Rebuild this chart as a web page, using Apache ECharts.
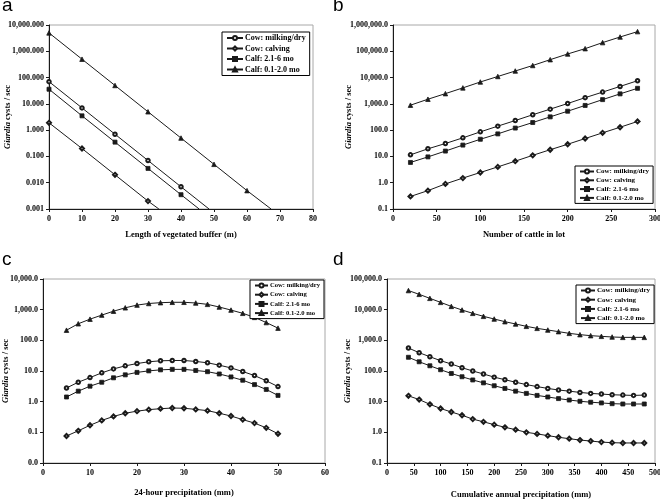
<!DOCTYPE html>
<html><head><meta charset="utf-8">
<script src="https://cdn.jsdelivr.net/npm/echarts@6/dist/echarts.min.js"></script>
<style>html,body{margin:0;padding:0;background:#fff}#c{width:660px;height:501px}</style>
</head><body><div id="c"></div>
<script>
const seriesNames = ['Cow: milking/dry', 'Cow: calving', 'Calf: 2.1-6 mo', 'Calf: 0.1-2.0 mo'];

// Panel a: length of vegetated buffer (m)
const aX = [0, 10, 20, 30, 40, 50, 60];
const aMilking = [70, 7, 0.7, 0.07, 0.007];
const aCalving = [1.9, 0.2, 0.02, 0.002];
const aCalf26 = [36, 3.5, 0.35, 0.035, 0.0035];
const aCalf02 = [5000, 500, 50, 5, 0.5, 0.05, 0.005];
// x where each line meets the axis floor (0.001), same order as seriesNames
const aLineEndX = [48.5, 33.3, 45.5, 67.3];
const aFloor = 0.001;

// Panel b: number of cattle in lot
const bX = [20, 40, 60, 80, 100, 120, 140, 160, 180, 200, 220, 240, 260, 280];
const bMilking = [11.5, 19.5, 31, 51, 86, 142, 232, 385, 630, 1030, 1720, 2800, 4600, 7600];
const bCalving = [0.30, 0.50, 0.90, 1.5, 2.45, 4.0, 6.6, 11, 18, 29, 48, 79, 129, 214];
const bCalf26 = [5.9, 9.6, 16, 27, 45, 72, 120, 195, 320, 525, 870, 1450, 2400, 3900];
const bCalf02 = [890, 1500, 2450, 4050, 6800, 11000, 17800, 28800, 48000, 79000, 126000, 214000, 350000, 560000];

// Panel c: 24-hour precipitation (mm)
const cX = [5, 7.5, 10, 12.5, 15, 17.5, 20, 22.5, 25, 27.5, 30, 32.5, 35, 37.5, 40, 42.5, 45, 47.5, 50];
const cMilking = [2.8, 4.3, 6.1, 8.7, 11.7, 14.7, 17.5, 20, 21.5, 22, 22, 20.5, 18.5, 15.5, 12.6, 9.6, 7.1, 4.8, 3.1];
const cCalving = [0.076, 0.112, 0.17, 0.245, 0.33, 0.42, 0.49, 0.55, 0.59, 0.62, 0.61, 0.56, 0.51, 0.42, 0.34, 0.26, 0.20, 0.14, 0.09];
const cCalf26 = [1.42, 2.2, 3.2, 4.3, 6.0, 7.5, 9.0, 10.1, 10.9, 11.3, 11.3, 10.4, 9.5, 8.0, 6.4, 5.0, 3.6, 2.5, 1.6];
const cCalf02 = [214, 347, 490, 665, 890, 1150, 1410, 1590, 1690, 1740, 1740, 1650, 1490, 1220, 970, 760, 560, 380, 250];

// Panel d: cumulative annual precipitation (mm)
const dX = [40, 60, 80, 100, 120, 140, 160, 180, 200, 220, 240, 260, 280, 300, 320, 340, 360, 380, 400, 420, 440, 460, 480];
const dMilking = [562, 395, 292, 217, 169, 128, 100, 80, 63, 52, 43, 36, 31, 27, 24, 22, 20, 18.6, 17.7, 16.8, 16.4, 16, 16.4];
const dCalving = [15.5, 11.7, 8.2, 6.0, 4.6, 3.6, 2.7, 2.2, 1.78, 1.46, 1.22, 1.0, 0.89, 0.78, 0.69, 0.62, 0.56, 0.52, 0.48, 0.46, 0.45, 0.45, 0.45];
const dCalf26 = [280, 200, 148, 110, 83, 65, 51, 41, 33, 27, 22, 18.6, 16, 14.2, 12.6, 11.3, 10.3, 9.6, 9.1, 8.6, 8.4, 8.4, 8.4];
const dCalf02 = [42000, 31600, 23400, 17300, 12800, 9750, 7590, 6060, 4960, 4060, 3410, 2860, 2460, 2170, 1920, 1690, 1530, 1420, 1350, 1285, 1250, 1250, 1250];

const symbols = ['emptyCircle', 'emptyDiamond', 'rect', 'triangle'];
const symbolSizes = [3.5, 4, 4, 4.5];
const INK = '#1a1a1a';
const SERIF = '"Liberation Serif", "Times New Roman", serif';

function pair(xs, ys) { return ys.map((y, i) => [xs[i], y]); }

const panels = [
  { x: aX, ys: [aMilking, aCalving, aCalf26, aCalf02], ends: aLineEndX },
  { x: bX, ys: [bMilking, bCalving, bCalf26, bCalf02] },
  { x: cX, ys: [cMilking, cCalving, cCalf26, cCalf02] },
  { x: dX, ys: [dMilking, dCalving, dCalf26, dCalf02] }
];

const grids = [
  { left: 49, top: 25, width: 264, height: 184 },
  { left: 393, top: 25, width: 262, height: 184 },
  { left: 43, top: 279, width: 282, height: 184 },
  { left: 387, top: 279, width: 268, height: 184 }
].map(g => Object.assign(g, { show: true, borderColor: '#a8a8a8', borderWidth: 1, backgroundColor: '#fff',
  containLabel: false, outerBoundsMode: 'none' }));

function fmt(d) {
  return v => Number(v).toLocaleString('en-US', { minimumFractionDigits: d, maximumFractionDigits: d });
}

const xSpecs = [
  { max: 80, interval: 10, name: 'Length of vegetated buffer (m)', gap: 21 },
  { max: 300, interval: 50, name: 'Number of cattle in lot', gap: 21 },
  { max: 60, interval: 10, name: '24-hour precipitation (mm)', gap: 25 },
  { max: 500, interval: 50, name: 'Cumulative annual precipitation (mm)', gap: 27 }
];
const ySpecs = [
  { min: 0.001, max: 10000, dec: 3, gap: 37, split: 7 },
  { min: 0.1, max: 1000000, dec: 1, gap: 40, split: 7 },
  { min: 0.01, max: 10000, dec: 1, gap: 33, split: 6 },
  { min: 0.1, max: 100000, dec: 1, gap: 35, split: 6 }
];

const labelStyle = { color: '#000', fontFamily: SERIF, fontWeight: 'bold', fontSize: 8 };

const xAxis = xSpecs.map((s, i) => ({
  type: 'value', gridIndex: i, min: 0, max: s.max, interval: s.interval,
  name: s.name, nameLocation: 'middle', nameGap: s.gap, nameMoveOverlap: false,
  nameTextStyle: Object.assign({}, labelStyle, { fontSize: 8.5 }),
  axisLine: { show: true, onZero: false, lineStyle: { color: INK, width: 1 } },
  axisTick: { show: true, length: 3, inside: false, lineStyle: { color: INK } },
  axisLabel: Object.assign({ margin: 6 }, labelStyle),
  splitLine: { show: false }
}));

const yAxis = ySpecs.map((s, i) => ({
  type: 'log', logBase: 10, gridIndex: i, min: s.min, max: s.max, splitNumber: s.split,
  name: '{i|Giardia} cysts / sec', nameLocation: 'middle', nameGap: s.gap, nameMoveOverlap: false,
  nameTextStyle: Object.assign({}, labelStyle, { fontSize: 8.5,
    rich: { i: { fontFamily: SERIF, fontStyle: 'italic', fontWeight: 'bold', fontSize: 8.5, color: '#000' } } }),
  axisLine: { show: true, lineStyle: { color: INK, width: 1 } },
  axisTick: { show: true, length: 3, lineStyle: { color: INK } },
  minorTick: { show: false },
  axisLabel: Object.assign({ margin: 5, formatter: fmt(s.dec) }, labelStyle),
  splitLine: { show: false }
}));

const series = [];
panels.forEach((p, pi) => {
  p.ys.forEach((ys, si) => {
    let data = pair(p.x, ys);
    if (p.ends) {
      data = data.map(d => ({ value: d }));
      data.push({ value: [p.ends[si], aFloor], symbol: 'none' });
    }
    series.push({
      name: seriesNames[si], type: 'line', xAxisIndex: pi, yAxisIndex: pi,
      data: data, symbol: symbols[si], symbolSize: symbolSizes[si], showAllSymbol: true,
      lineStyle: { color: INK, width: 1 },
      itemStyle: { color: INK, borderColor: INK, borderWidth: 0.8 },
      emphasis: { disabled: true }, animation: false, clip: true, z: 3
    });
  });
});

const legendSpecs = [
  { left: 222, top: 32, font: 8, gap: 2.5, w: 16 },
  { left: 575, top: 166, font: 7, gap: 1.8, w: 14 },
  { left: 250, top: 280, font: 6.6, gap: 2.2, w: 13 },
  { left: 576, top: 285, font: 7, gap: 2.2, w: 14 }
];
const legend = legendSpecs.map(p => ({
  left: p.left, top: p.top, orient: 'vertical', data: seriesNames,
  selectedMode: false, itemWidth: p.w, itemHeight: 5, itemGap: p.gap,
  padding: [2, 4, 2, 4], borderColor: '#000', borderWidth: 1, backgroundColor: '#fff',
  textStyle: { color: '#000', fontFamily: SERIF, fontWeight: 'bold', fontSize: p.font, padding: [0, 0, 0, -3] }
}));

const letters = [
  { t: 'a', x: 2, y: 7.5 }, { t: 'b', x: 333, y: 7.5 },
  { t: 'c', x: 2, y: 261.5 }, { t: 'd', x: 333, y: 261.5 }
];
const graphic = letters.map(l => ({
  type: 'text', left: l.x, top: l.y - 11,
  style: { text: l.t, fill: '#000', font: '19px "Liberation Sans", Arial, sans-serif' }
}));

const chart = echarts.init(document.getElementById('c'), null, { renderer: 'canvas' });
chart.setOption({
  animation: false, backgroundColor: '#fff',
  grid: grids, xAxis: xAxis, yAxis: yAxis, series: series, legend: legend, graphic: graphic
});
</script></body></html>
